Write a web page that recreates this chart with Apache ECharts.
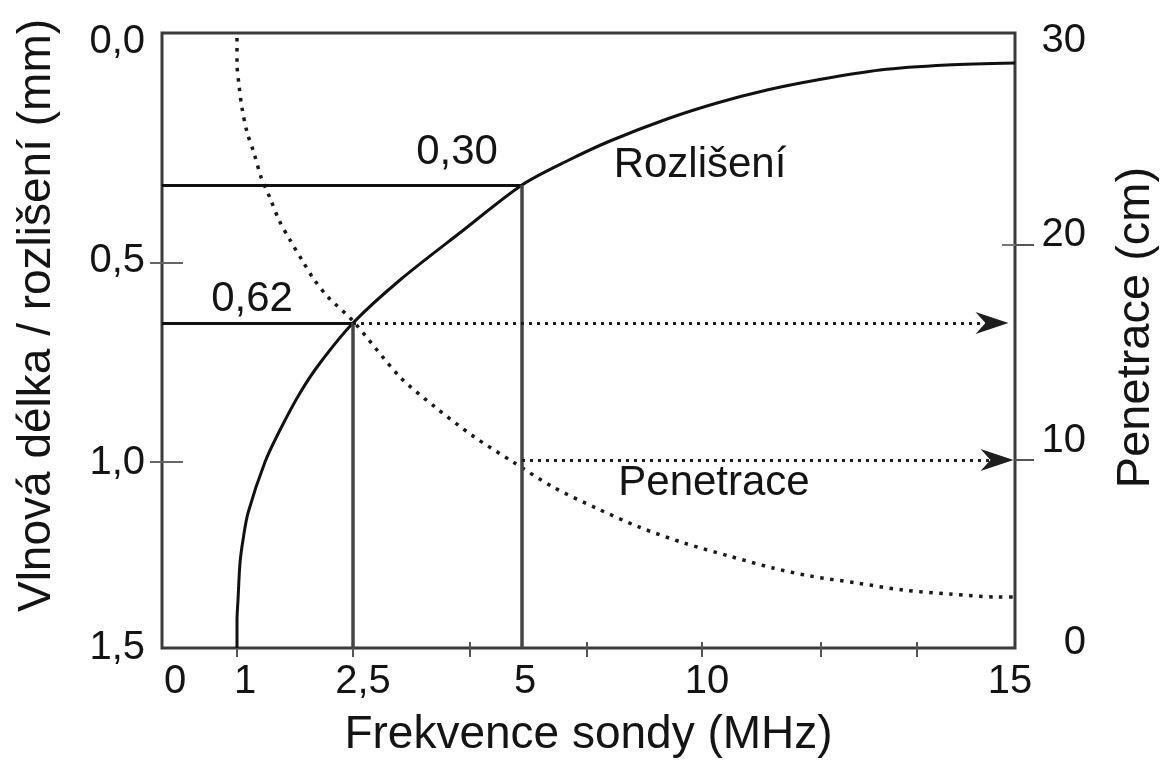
<!DOCTYPE html>
<html>
<head>
<meta charset="utf-8">
<script src="https://cdn.jsdelivr.net/npm/echarts@6/dist/echarts.min.js"></script>
<style>html,body{margin:0;padding:0;background:#fff}#c{width:1175px;height:765px}</style>
</head>
<body>
<div id="c"></div>
<script>
// Drawing scale of the original schematic: x and y are positions along each axis (0 = lower-left corner).
const xTickPos = [75, 191, 308, 425, 540, 659, 755];
const xLabelPos = [13, 83, 201, 363, 545, 848];
const xLabels = ['0', '1', '2,5', '5', '10', '15'];

const leftLabelPos = [606, 387, 185, 0];
const leftLabels = ['0,0', '0,5', '1,0', '1,5'];
const leftTickPos = [385, 186];

const rightLabelPos = [607, 413, 207, 5];
const rightLabels = ['30', '20', '10', '0'];
const rightTickOutPos = [403, 188];
const rightTickInPos = [403];

// Rozlišení (resolution) curve – solid
const resolutionCurve = [
  [75, 0], [75, 28], [76, 48], [78, 85], [81, 108], [86, 135], [103, 186], [118, 218],
  [138, 255], [158, 285], [191, 325], [238, 368], [299, 416], [360, 463],
  [405, 487], [448, 507], [505, 529], [555, 545], [605, 558], [655, 568], [718, 578],
  [785, 583], [853, 585]
];
// Penetrace (penetration) curve – dotted
const penetrationCurve = [
  [75, 610], [75, 585], [77, 563], [80, 540], [85, 516], [92, 495], [99, 471], [108, 450],
  [117, 428], [128, 408], [140, 388], [151, 370], [166, 351], [191, 327], [238, 271],
  [273, 241], [311, 212], [351, 186], [391, 161], [434, 140], [477, 121], [522, 105],
  [567, 92], [611, 80], [648, 72], [695, 65], [741, 58], [788, 54], [836, 51], [859, 51]
];

// Reading points: 2,5 MHz -> 0,62 ; 5 MHz -> 0,30
const readAt25 = [191, 325];
const readAt5 = [360, 463];
const penetrationAt5 = 188;
const arrowEnd1 = 830;
const arrowEnd2 = 835;

const annotations = [
  { name: '0,30', value: [295, 496] },
  { name: '0,62', value: [90, 349] },
  { name: 'Rozlišení', value: [538, 483] },
  { name: 'Penetrace', value: [552, 165] }
];

const FONT = 'Liberation Sans, Arial, Helvetica, sans-serif';
const TXT = '#141414';
const ARROW = 'path://M0,0L11,33L0,23L-11,33Z';

const chart = echarts.init(document.getElementById('c'), null, { renderer: 'canvas' });

function mapLabel(pos, labels) {
  return v => { const i = pos.indexOf(v); return i >= 0 ? labels[i] : ''; };
}

const solid = { color: '#111', width: 3.2, type: 'solid' };
const drop = { color: '#444', width: 3.5, type: 'solid' };
const dots = { color: '#1e1e1e', width: 3, type: [3, 5], cap: 'butt' };

chart.setOption({
  animation: false,
  backgroundColor: '#fff',
  grid: { left: 162, top: 33, width: 853, height: 615, show: true, borderColor: '#3a3a3a', borderWidth: 3, backgroundColor: 'transparent' },
  xAxis: [
    {
      type: 'value', min: 0, max: 853, position: 'bottom',
      axisLine: { show: false },
      splitLine: { show: false },
      axisTick: { show: true, customValues: xTickPos, length: 9, lineStyle: { color: '#555', width: 2 } },
      axisLabel: { customValues: xLabelPos, formatter: mapLabel(xLabelPos, xLabels), fontSize: 40, color: TXT, fontFamily: FONT, margin: 14 },
      name: 'Frekvence sondy (MHz)', nameLocation: 'middle', nameGap: 64,
      nameTextStyle: { fontSize: 46, color: TXT, fontFamily: FONT }
    },
    {
      type: 'value', min: 0, max: 853, position: 'bottom',
      axisLine: { show: false }, splitLine: { show: false }, axisLabel: { show: false },
      axisTick: { show: true, inside: true, customValues: xTickPos, length: 6, lineStyle: { color: '#555', width: 2 } }
    }
  ],
  yAxis: [
    {
      type: 'value', min: 0, max: 615, position: 'left',
      axisLine: { show: false }, splitLine: { show: false },
      axisTick: { show: true, customValues: leftTickPos, length: 12, lineStyle: { color: '#666', width: 2 } },
      axisLabel: { customValues: leftLabelPos, formatter: mapLabel(leftLabelPos, leftLabels), fontSize: 40, color: TXT, fontFamily: FONT, margin: 17 },
      name: 'Vlnová délka / rozlišení (mm)', nameLocation: 'middle', nameRotate: 90, nameGap: 102,
      nameTextStyle: { fontSize: 46, color: TXT, fontFamily: FONT, padding: [0, 0, 0, 50] }
    },
    {
      type: 'value', min: 0, max: 615, position: 'left',
      axisLine: { show: false }, splitLine: { show: false }, axisLabel: { show: false },
      axisTick: { show: true, inside: true, customValues: leftTickPos, length: 21, lineStyle: { color: '#666', width: 2 } }
    },
    {
      type: 'value', min: 0, max: 615, position: 'right',
      axisLine: { show: false }, splitLine: { show: false },
      axisTick: { show: true, customValues: rightTickOutPos, length: 19, lineStyle: { color: '#555', width: 2 } },
      axisLabel: { customValues: rightLabelPos, formatter: mapLabel(rightLabelPos, rightLabels), fontSize: 40, color: TXT, fontFamily: FONT, margin: 71, align: 'right' },
      name: 'Penetrace (cm)', nameLocation: 'middle', nameRotate: 90, nameGap: 98,
      nameTextStyle: { fontSize: 47, color: TXT, fontFamily: FONT, padding: [0, 0, 0, 26] }
    },
    {
      type: 'value', min: 0, max: 615, position: 'right',
      axisLine: { show: false }, splitLine: { show: false }, axisLabel: { show: false },
      axisTick: { show: true, inside: true, customValues: rightTickInPos, length: 13, lineStyle: { color: '#777', width: 2 } }
    }
  ],
  series: [
    {
      name: 'Vodítka', type: 'line', data: [], xAxisIndex: 0, yAxisIndex: 0, silent: true,
      markLine: {
        silent: true, animation: false, label: { show: false },
        symbol: ['none', 'none'],
        data: [
          [{ coord: [0, readAt25[1]], lineStyle: solid }, { coord: readAt25 }],
          [{ coord: [0, readAt5[1]], lineStyle: solid }, { coord: readAt5 }],
          [{ coord: [readAt25[0], 0], lineStyle: drop }, { coord: readAt25 }],
          [{ coord: [readAt5[0], 0], lineStyle: drop }, { coord: readAt5 }],
          [{ coord: readAt25, lineStyle: dots, symbol: 'none' }, { coord: [arrowEnd1, readAt25[1]], symbol: ARROW, symbolSize: [22, 33], itemStyle: { color: '#111' } }],
          [{ coord: [readAt5[0], penetrationAt5], lineStyle: dots, symbol: 'none' }, { coord: [arrowEnd2, penetrationAt5], symbol: ARROW, symbolSize: [22, 33], itemStyle: { color: '#111' } }]
        ]
      }
    },
    {
      name: 'Rozlišení', type: 'line', data: resolutionCurve, smooth: 0.3, showSymbol: false, clip: false,
      lineStyle: { color: '#111', width: 3 }, z: 3
    },
    {
      name: 'Penetrace', type: 'line', data: penetrationCurve, smooth: 0.3, showSymbol: false, clip: false,
      lineStyle: { color: '#1a1a1a', width: 3.5, type: [3.5, 6.5], cap: 'butt' }, z: 3
    },
    {
      name: 'Popisky', type: 'scatter', data: annotations, symbolSize: 0, silent: true,
      itemStyle: { opacity: 1, color: 'transparent' },
      label: { show: true, position: 'inside', formatter: p => p.name, fontSize: 42, color: TXT, fontFamily: FONT, opacity: 1 }
    }
  ]
});
</script>
</body>
</html>
